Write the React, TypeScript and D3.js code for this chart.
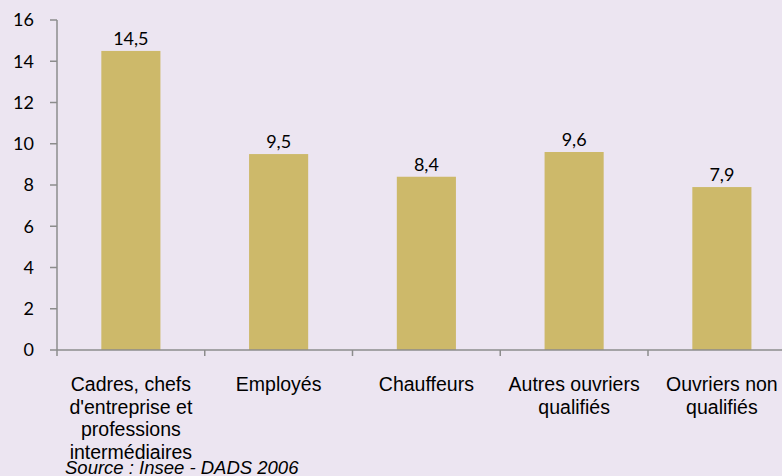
import React, { useEffect, useRef } from 'react';
import * as d3 from 'd3';

const categories = [
  ['Cadres, chefs', "d'entreprise et", 'professions', 'intermédiaires'],
  ['Employés'],
  ['Chauffeurs'],
  ['Autres ouvriers', 'qualifiés'],
  ['Ouvriers non', 'qualifiés'],
];
const values = [14.5, 9.5, 8.4, 9.6, 7.9];
const valueLabels = ['14,5', '9,5', '8,4', '9,6', '7,9'];
const yTicks = [0, 2, 4, 6, 8, 10, 12, 14, 16];

const App: React.FC = () => {
  const svgRef = useRef<SVGSVGElement>(null);

  useEffect(() => {
    if (!svgRef.current) return;
    const width = 782;
    const height = 476;
    const left = 57;
    const top = 20;
    const bottom = 350;
    const bandW = 147.75;

    const svg = d3.select(svgRef.current);
    svg.selectAll('*').remove();
    svg.attr('width', width).attr('height', height);

    svg.append('rect').attr('width', width).attr('height', height).attr('fill', '#ECE5F1');

    const x = d3.scaleBand<number>()
      .domain(d3.range(values.length))
      .range([left, left + bandW * values.length])
      .paddingInner(0.6)
      .paddingOuter(0.3);
    const y = d3.scaleLinear().domain([0, 16]).range([bottom, top]);

    // bars
    svg.append('g').selectAll('rect').data(values).join('rect')
      .attr('x', (_, i) => x(i)!)
      .attr('width', x.bandwidth())
      .attr('y', d => y(d))
      .attr('height', d => y(0) - y(d))
      .attr('fill', '#CDB96A');

    // value labels
    svg.append('g').selectAll('text').data(values).join('text')
      .attr('x', (_, i) => x(i)! + x.bandwidth() / 2)
      .attr('y', d => y(d) - 6)
      .attr('text-anchor', 'middle')
      .attr('font-family', 'Lato, sans-serif')
      .attr('font-size', 18)
      .attr('fill', '#000')
      .text((_, i) => valueLabels[i]);

    // y axis
    const gy = svg.append('g');
    gy.append('line').attr('x1', left).attr('x2', left).attr('y1', top).attr('y2', bottom)
      .attr('stroke', '#8C8C8C').attr('stroke-width', 1.5);
    gy.selectAll('line.t').data(yTicks).join('line').attr('class', 't')
      .attr('x1', left - 7).attr('x2', left).attr('y1', d => y(d)).attr('y2', d => y(d))
      .attr('stroke', '#8C8C8C').attr('stroke-width', 1.5);
    gy.selectAll('text').data(yTicks).join('text')
      .attr('x', 34).attr('y', d => y(d)).attr('dy', '0.35em')
      .attr('text-anchor', 'end')
      .attr('font-family', 'Lato, sans-serif').attr('font-size', 18).attr('fill', '#000')
      .text(d => d);

    // x axis
    const gx = svg.append('g');
    gx.append('line').attr('x1', left).attr('x2', width).attr('y1', bottom).attr('y2', bottom)
      .attr('stroke', '#8C8C8C').attr('stroke-width', 1.5);
    gx.selectAll('line.t').data(d3.range(values.length + 1)).join('line').attr('class', 't')
      .attr('x1', i => left + i * bandW).attr('x2', i => left + i * bandW)
      .attr('y1', bottom).attr('y2', bottom + 6)
      .attr('stroke', '#8C8C8C').attr('stroke-width', 1.5);

    const labels = gx.selectAll('text').data(categories).join('text')
      .attr('x', (_, i) => x(i)! + x.bandwidth() / 2)
      .attr('y', 391)
      .attr('text-anchor', 'middle')
      .attr('font-family', '"Liberation Sans", Arial, sans-serif')
      .attr('font-size', 19.5)
      .attr('fill', '#000');
    labels.each(function (lines, i) {
      d3.select(this).selectAll('tspan').data(lines).join('tspan')
        .attr('x', x(i)! + x.bandwidth() / 2)
        .attr('dy', (_, j) => (j === 0 ? 0 : 22.7))
        .text(l => l);
    });

    svg.append('text')
      .attr('x', 65).attr('y', 474)
      .attr('font-family', '"Liberation Sans", Arial, sans-serif')
      .attr('font-size', 18.5).attr('font-style', 'italic').attr('fill', '#000')
      .text('Source : Insee - DADS 2006');
  }, []);

  return <svg ref={svgRef} style={{ position: 'absolute', left: 0, top: 0 }} />;
};

export default App;
